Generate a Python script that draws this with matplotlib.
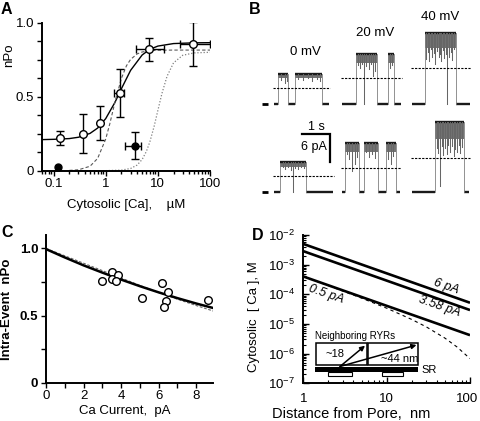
import matplotlib
matplotlib.use('Agg')
import matplotlib.pyplot as plt
from matplotlib.patches import Rectangle
from matplotlib.ticker import MultipleLocator, LogLocator, NullFormatter
from matplotlib.transforms import ScaledTranslation

plt.rcParams['font.family'] = ['Liberation Sans', 'DejaVu Sans']
plt.rcParams['mathtext.fontset'] = 'custom'
plt.rcParams['mathtext.rm'] = 'Liberation Sans'
plt.rcParams['mathtext.it'] = 'Liberation Sans:italic'
plt.rcParams['font.size'] = 9
plt.rcParams['axes.linewidth'] = 1.4

# ---- panel A: nPo vs cytosolic Ca ----
ca_open = [0.13, 0.36, 0.78, 1.9, 6.9, 47]
npo_open = [0.219, 0.25, 0.32, 0.525, 0.82, 0.856]
npo_open_err = [0.048, 0.13, 0.115, 0.16, 0.077, 0.148]
ca_open_lo = [0.13, 0.36, 0.78, 1.45, 3.75, 27]
ca_open_hi = [0.13, 0.36, 0.78, 2.25, 13.0, 100]

ca_fill = [0.12, 3.6]
npo_fill = [0.025, 0.169]
npo_fill_err = [0.0, 0.09]
ca_fill_lo = [0.12, 2.3]
ca_fill_hi = [0.12, 4.8]

ca_fit = [0.06, 0.1, 0.2, 0.3, 0.5, 0.7, 1.0, 1.5, 2, 3, 5, 7, 10, 20, 50, 100]
fit_solid = [0.21, 0.212, 0.217, 0.226, 0.252, 0.288, 0.352, 0.461, 0.554,
             0.678, 0.782, 0.82, 0.842, 0.859, 0.864, 0.865]
ca_dash = [0.2, 0.3, 0.5, 0.7, 1.0, 1.2, 1.5, 2, 2.5, 3, 4, 5, 7, 10, 20, 50, 100]
fit_dash = [0.002, 0.006, 0.030, 0.083, 0.214, 0.318, 0.462, 0.624, 0.709,
            0.752, 0.789, 0.802, 0.811, 0.814, 0.815, 0.815, 0.815]
ca_dot = [0.5, 1, 2, 3, 4, 5, 6, 7, 8.5, 10, 12, 15, 20, 30, 50, 100]
fit_dot = [0.0, 0.0004, 0.004, 0.015, 0.038, 0.076, 0.129, 0.193, 0.301,
           0.407, 0.523, 0.638, 0.729, 0.78, 0.796, 0.8]

# ---- panel B: single channel records (time in s, current in pA) ----
voltages = ['0 mV', '20 mV', '40 mV']
trace_dur = [1.93, 2.07, 2.04, 2.07, 2.04, 2.0]
trace_amp = [6.4, 10.6, 15.1, 6.2, 10.4, 14.7]
trace_thresh = [3.4, 5.6, 7.7, 3.2, 5.0, 7.2]
trace_band = [0.8, 1.8, 3.2, 0.9, 2.0, 3.6]
open_1 = [(0.14, 0.49), (0.72, 1.68)]
open_2 = [(0.49, 1.23), (1.61, 1.82)]
open_3 = [(0.46, 1.54)]
open_4 = [(0.21, 1.12)]
open_5 = [(0.105, 0.60), (0.77, 1.26), (1.54, 1.89)]
open_6 = [(0.80, 1.82)]
flick_1 = [(0.25, 1.2), (0.38, 2.0), (0.45, 1.5), (0.85, 1.0), (1.0, 1.3),
           (1.2, 0.9), (1.35, 1.4), (1.5, 1.1), (1.6, 1.6)]
flick_2 = [(0.55, 2.2), (0.62, 3.0), (0.70, 2.0), (0.77, 10.6), (0.85, 2.5),
           (0.93, 3.2), (1.0, 2.0), (1.09, 4.7), (1.16, 3.5), (1.68, 3.0), (1.75, 2.2)]
flick_3 = [(0.5, 5.5), (0.55, 4.0), (0.6, 6.0), (0.65, 3.5), (0.7, 5.0), (0.76, 4.2),
           (0.82, 6.5), (0.88, 3.8), (0.93, 5.2), (0.98, 4.5), (1.03, 6.0), (1.08, 3.6),
           (1.13, 5.4), (1.18, 4.4), (1.23, 15.1), (1.3, 5.0), (1.36, 4.0), (1.42, 5.8),
           (1.48, 3.5)]
flick_4 = [(0.3, 1.0), (0.4, 1.4), (0.5, 0.9), (0.58, 1.6), (0.66, 6.2), (0.75, 1.2),
           (0.85, 1.5), (0.95, 1.0), (1.05, 1.3)]
flick_5 = [(0.18, 2.5), (0.25, 3.5), (0.35, 6.0), (0.45, 4.5), (0.52, 3.0), (0.85, 2.0),
           (0.95, 3.0), (1.05, 2.4), (1.15, 3.2), (1.62, 3.5), (1.72, 4.5), (1.8, 2.8)]
flick_6 = [(0.86, 5.5), (0.92, 6.5), (0.98, 13.6), (1.04, 5.0), (1.1, 7.0), (1.16, 5.5),
           (1.22, 6.8), (1.28, 4.8), (1.34, 6.2), (1.4, 5.0), (1.46, 7.2), (1.52, 5.6),
           (1.58, 6.4), (1.64, 4.9), (1.7, 6.6), (1.76, 5.2)]
trace_opens = [open_1, open_2, open_3, open_4, open_5, open_6]
trace_flicks = [flick_1, flick_2, flick_3, flick_4, flick_5, flick_6]

# ---- panel C: intra-event nPo vs Ca current ----
ca_current = [2.98, 3.51, 3.51, 3.83, 3.74, 5.14, 6.19, 6.49, 6.40, 6.29, 8.65]
npo_event = [0.757, 0.826, 0.769, 0.801, 0.757, 0.632, 0.744, 0.677, 0.608, 0.561, 0.615]
cur_fit = [0, 1, 2, 3, 4, 5, 6, 7, 8, 9]
npo_fit_solid = [0.995, 0.933, 0.874, 0.82, 0.768, 0.719, 0.673, 0.63, 0.59, 0.553]
npo_fit_dash = [1.0, 0.945, 0.89, 0.835, 0.78, 0.725, 0.672, 0.622, 0.575, 0.53]

# ---- panel D: Ca near the pore ----
dist = [1, 100]
ca_6pA = [5.0e-3, 5.2e-5]
ca_358pA = [2.85e-3, 2.95e-5]
ca_05pA = [4.0e-4, 4.2e-6]
dist_buf = [1, 2, 5, 10, 20, 30, 50, 70, 100]
ca_buf = [4.0e-4, 1.96e-4, 7.45e-5, 3.41e-5, 1.42e-5, 7.95e-6, 3.34e-6, 1.67e-6, 6.8e-7]

W, H = 480, 421
fig = plt.figure(figsize=(4.8, 4.21), dpi=100)


def box(x0, y0, x1, y1):
    # pixel box (left, top, right, bottom) -> figure fraction rect
    return [x0 / W, 1 - y1 / H, (x1 - x0) / W, (y1 - y0) / H]


def style(ax):
    for s in ['top', 'right']:
        ax.spines[s].set_visible(False)


# ================= A =================
axA = fig.add_axes(box(42, 22.7, 210, 170.7))
style(axA)
axA.set_xscale('log')
axA.set_xlim(0.06, 100)
axA.set_ylim(0, 1.0)
axA.plot(ca_fit, fit_solid, color='k', lw=1.0, zorder=2)
axA.plot(ca_dash, fit_dash, color='0.35', lw=0.8, dashes=(3, 2), zorder=2)
axA.plot(ca_dot, fit_dot, color='0.5', lw=0.9, dashes=(1, 1.5), zorder=2)
axA.errorbar(ca_open, npo_open, yerr=npo_open_err, fmt='none', ecolor='k',
             elinewidth=1, capsize=3, capthick=1, zorder=3)
xe = [(x, y, x - lo, hi - x) for x, y, lo, hi in zip(ca_open, npo_open, ca_open_lo, ca_open_hi) if hi > lo]
axA.errorbar([e[0] for e in xe], [e[1] for e in xe],
             xerr=[[e[2] for e in xe], [e[3] for e in xe]], fmt='none', ecolor='k',
             elinewidth=1, capsize=3, capthick=1, zorder=3)
axA.errorbar(ca_fill[1:], npo_fill[1:], yerr=npo_fill_err[1:],
             xerr=[[ca_fill[1] - ca_fill_lo[1]], [ca_fill_hi[1] - ca_fill[1]]],
             fmt='none', ecolor='k', elinewidth=1, capsize=3, capthick=1, zorder=3)
axA.plot(ca_open, npo_open, 'o', ms=5.5, mfc='white', mec='k', mew=1.0, zorder=4)
axA.plot(ca_fill, npo_fill, 'o', ms=5, mfc='k', mec='k', zorder=4)
axA.set_xticks([0.1, 1, 10, 100])
axA.set_xticklabels(['0.1', '1', '10', '100'])
axA.xaxis.set_minor_locator(LogLocator(base=10, subs=range(2, 10)))
axA.xaxis.set_minor_formatter(NullFormatter())
axA.set_yticks([0, 0.5, 1.0])
axA.set_yticklabels(['0', '0.5', '1.0'])
axA.yaxis.set_minor_locator(MultipleLocator(0.125))
axA.tick_params(which='both', direction='out', length=3.5, width=1.0, labelsize=9.5, pad=2)
axA.tick_params(axis='x', which='minor', length=2.5)
axA.set_ylabel('nPo', fontsize=9.5)
axA.yaxis.set_label_coords(-0.16, 0.78)
axA.set_xlabel('Cytosolic [Ca],    \u00b5M', fontsize=9.5, va='top')
axA.xaxis.set_label_coords(0.5, -0.19)

# ================= C =================
axC = fig.add_axes(box(46, 235, 213, 382.7))
style(axC)
axC.set_xlim(0, 8.9)
axC.set_ylim(0, 1.1)
axC.plot(cur_fit, npo_fit_dash, color='0.4', lw=0.8, dashes=(2.5, 1.5), zorder=2)
axC.plot(cur_fit, npo_fit_solid, color='k', lw=1.8, zorder=3)
axC.plot(ca_current, npo_event, 'o', ms=5.5, mfc='white', mec='k', mew=1.0, zorder=4)
axC.set_xticks([0, 2, 4, 6, 8])
axC.xaxis.set_minor_locator(MultipleLocator(1))
axC.set_yticks([0, 0.5, 1.0])
axC.set_yticklabels(['0', '0.5', '1.0'], fontweight='bold')
axC.yaxis.set_minor_locator(MultipleLocator(0.25))
axC.tick_params(which='both', direction='out', length=3.5, width=1.0, labelsize=9.5, pad=2)
axC.set_ylabel('Intra-Event  nPo', fontsize=9.5, fontweight='bold')
axC.yaxis.set_label_coords(-0.2, 0.5)
axC.set_xlabel('Ca Current,  pA', fontsize=9.5, va='top')
axC.xaxis.set_label_coords(0.47, -0.15)

# ================= D =================
axD = fig.add_axes(box(303.3, 235, 470, 383.3))
style(axD)
axD.set_xscale('log')
axD.set_yscale('log')
axD.set_xlim(1, 100)
axD.set_ylim(1e-7, 1e-2)
axD.plot(dist_buf, ca_buf, color='k', lw=0.8, dashes=(3, 3))
axD.plot(dist, ca_6pA, color='k', lw=1.9, solid_capstyle='butt')
axD.plot(dist, ca_358pA, color='k', lw=1.9, solid_capstyle='butt')
axD.plot(dist, ca_05pA, color='k', lw=1.9, solid_capstyle='butt')
axD.text(52, 1.9e-4, '6 pA', rotation=-19, style='italic', ha='center', va='center', fontsize=9)
axD.text(43, 3.8e-5, '3.58 pA', rotation=-19, style='italic', ha='center', va='center', fontsize=9)
axD.text(1.9, 1.0e-4, '0.5 pA', rotation=-19, style='italic', ha='center', va='center', fontsize=9)
axD.set_xticks([1, 10, 100])
axD.set_xticklabels(['1', '10', '100'])
axD.xaxis.set_minor_locator(LogLocator(base=10, subs=range(2, 10)))
axD.xaxis.set_minor_formatter(NullFormatter())
axD.yaxis.set_major_locator(LogLocator(base=10, numticks=10))
axD.yaxis.set_minor_locator(LogLocator(base=10, subs=range(2, 10), numticks=10))
axD.yaxis.set_minor_formatter(NullFormatter())
axD.tick_params(which='major', direction='in', length=4, width=1.0, labelsize=9.5)
axD.tick_params(which='minor', direction='in', length=2.5, width=0.8)
axD.tick_params(axis='x', pad=7, labelsize=9.5)
axD.tick_params(axis='y', pad=6)
# keep the last x label inside the figure edge
last = axD.get_xticklabels()[-1]
last.set_transform(last.get_transform() + ScaledTranslation(-0.03, 0, fig.dpi_scale_trans))
axD.set_ylabel('Cytosolic  [ Ca ], M', fontsize=9.5)
axD.yaxis.set_label_coords(-0.26, 0.45)
axD.set_xlabel('Distance from Pore,  nm', fontsize=10.5, va='top')
axD.xaxis.set_label_coords(0.29, -0.16)

# ================= overlay in pixel space: B records + D inset =================
ov = fig.add_axes([0, 0, 1, 1], zorder=5)
ov.set_xlim(0, W)
ov.set_ylim(H, 0)
ov.axis('off')

px_s = 28.5    # pixels per second (scale bar 1 s)
px_pa = 4.7    # pixels per pA (scale bar 6 pA)
col_x = [274, 342, 412]
row_y = [104, 191.5]


def draw_trace(x0, y0, dur, amp, thresh, band, opens, flicks):
    top = y0 - amp * px_pa
    t = 0.0
    for t_on, t_off in opens:
        ov.plot([x0 + t * px_s, x0 + t_on * px_s], [y0, y0], color='0.1', lw=1.7,
                solid_capstyle='butt')
        t = t_off
    ov.plot([x0 + t * px_s, x0 + dur * px_s], [y0, y0], color='0.1', lw=1.7,
            solid_capstyle='butt')
    for t_on, t_off in opens:
        xa, xb = x0 + t_on * px_s, x0 + t_off * px_s
        ov.plot([xa, xa], [y0, top], color='0.5', lw=0.6)
        ov.plot([xb, xb], [y0, top], color='0.5', lw=0.6)
        ov.fill_between([xa, xb], top, top + band * px_pa, color='0.45', lw=0)
        ov.plot([xa, xb], [top, top], color='0.1', lw=1.7, solid_capstyle='butt')
    for tf, depth in flicks:
        xf = x0 + tf * px_s
        ov.plot([xf, xf], [top, top + depth * px_pa], color='0.4', lw=0.75)
    yt = y0 - thresh * px_pa
    ov.plot([x0 - 1, x0 + dur * px_s + 1], [yt, yt], color='k', lw=0.8, dashes=(2, 1.2))


for i in range(6):
    r, c = divmod(i, 3)
    draw_trace(col_x[c], row_y[r], trace_dur[i], trace_amp[i], trace_thresh[i],
               trace_band[i], trace_opens[i], trace_flicks[i])
for y0 in row_y:
    ov.plot([262, 268], [y0, y0], color='k', lw=2, solid_capstyle='butt')

ov.text(305, 52, voltages[0], ha='center', va='center', fontsize=9.5)
ov.text(375, 33, voltages[1], ha='center', va='center', fontsize=9.5)
ov.text(440, 17, voltages[2], ha='center', va='center', fontsize=9.5)

# scale bar
ov.plot([330 - px_s, 330, 330], [134, 134, 134 + 6 * px_pa], color='k', lw=1.6,
        solid_joinstyle='miter')
ov.text(316, 127, '1 s', ha='center', va='center', fontsize=9)
ov.text(327, 147, '6 pA', ha='right', va='center', fontsize=9)

# D inset schematic
ov.text(355, 336, 'Neighboring RYRs', ha='center', va='center', fontsize=7)
ov.add_patch(Rectangle((316, 343.3), 50.5, 21.7, fc='white', ec='k', lw=1.1, zorder=3))
ov.add_patch(Rectangle((368.3, 343.3), 50, 21.7, fc='white', ec='k', lw=1.1, zorder=3))
ov.add_patch(Rectangle((315, 367), 103, 4.5, fc='k', ec='k', lw=0, zorder=3))
ov.add_patch(Rectangle((328, 371.5), 23.5, 4.5, fc='white', ec='k', lw=0.8, zorder=3))
ov.add_patch(Rectangle((381.7, 371.5), 21.6, 4.5, fc='white', ec='k', lw=0.8, zorder=3))
ov.text(335, 354, '~18', ha='center', va='center', fontsize=8, zorder=4)
ov.text(400, 359.5, '~44 nm', ha='center', va='center', fontsize=8, zorder=4)
ov.text(421, 370, 'SR', ha='left', va='center', fontsize=8)
for tip in [(365, 345.7), (416.5, 345)]:
    ov.annotate('', xy=tip, xytext=(340, 366.5), zorder=5,
                arrowprops=dict(arrowstyle='-|>', lw=1.1, color='k', mutation_scale=7,
                                shrinkA=0, shrinkB=0))

# panel letters
for letter, x, y in [('A', 1, 2), ('B', 249, 2), ('C', 1, 225), ('D', 252, 228)]:
    fig.text(x / W, 1 - y / H, letter, fontsize=11.5, fontweight='bold', va='top', ha='left')

fig.savefig('out.png', dpi=100)
